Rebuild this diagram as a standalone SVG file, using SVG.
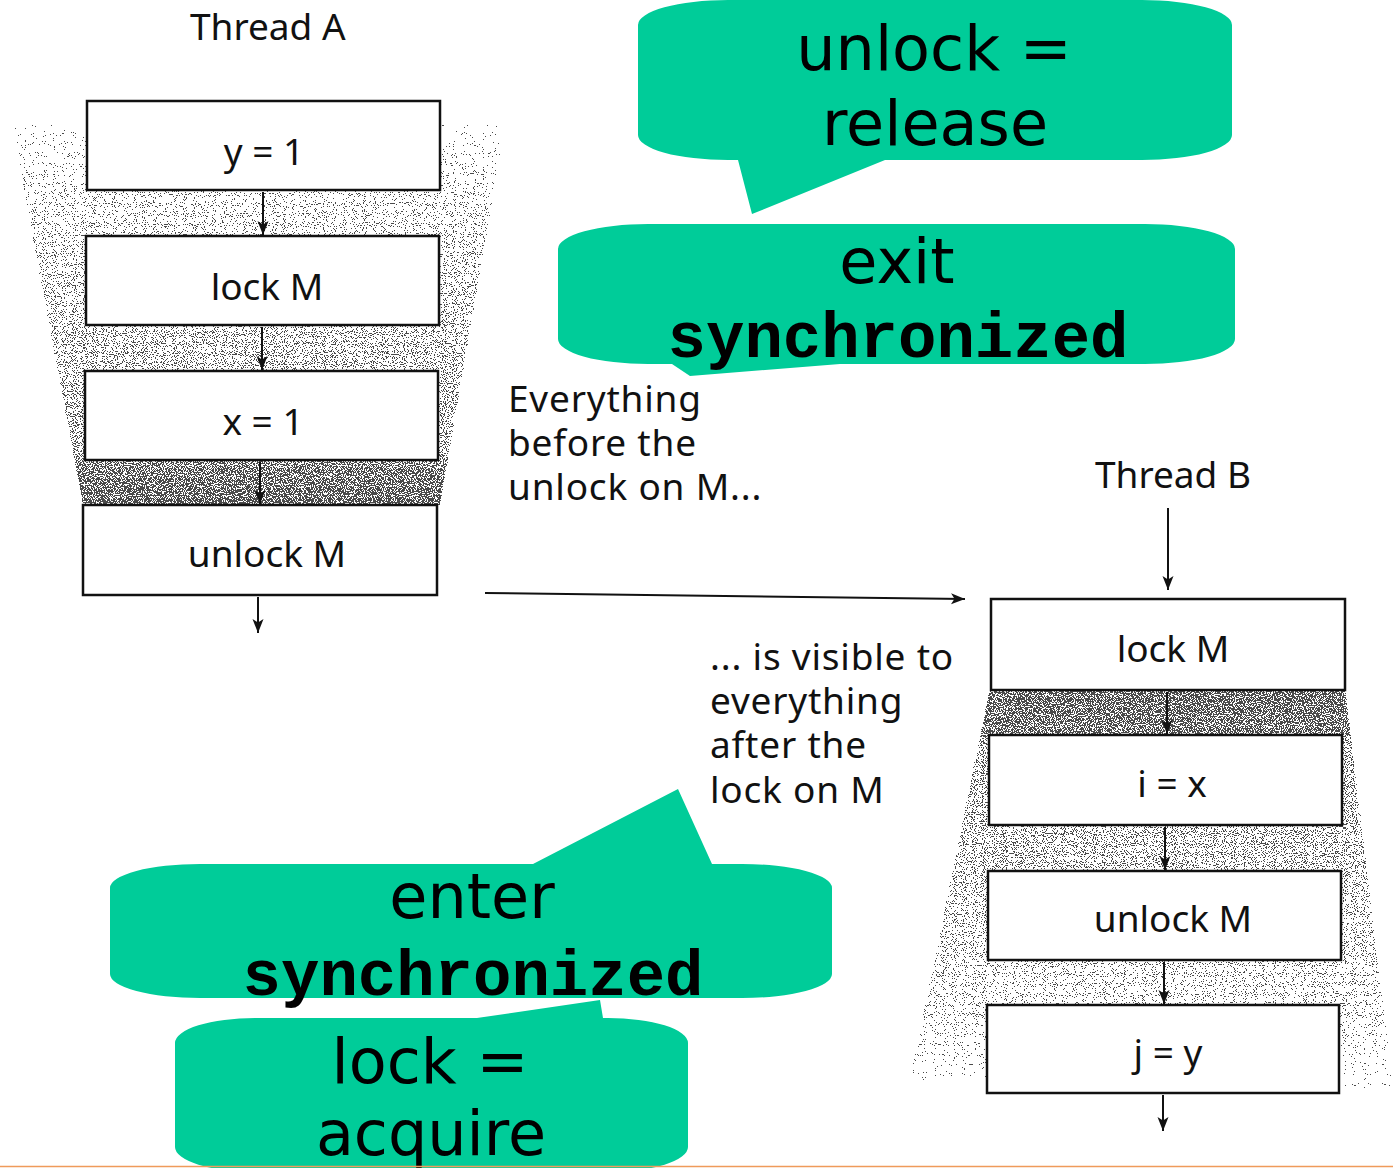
<svg xmlns="http://www.w3.org/2000/svg" width="1393" height="1168" viewBox="0 0 1393 1168">
  <style>
    .box { fill: #ffffff; stroke: #111; stroke-width: 2.5; }
    .lbl { font-family: "Noto Sans", "Open Sans", sans-serif; font-size: 37px; fill: #111; }
    .note { letter-spacing: 0.8px; }
    .mid { text-anchor: middle; }
    .bubble { fill: #00CC99; }
    .big { font-family: "DejaVu Sans", sans-serif; font-size: 62px; fill: #000; text-anchor: middle; }
    .code { font-family: "Liberation Mono", "Courier New", monospace; font-weight: bold; font-size: 64px; fill: #000; text-anchor: middle; }
    .conn line { stroke: #111; stroke-width: 2; marker-end: url(#arrow); }
  </style>
  <defs>
    <marker id="arrow" markerUnits="userSpaceOnUse" markerWidth="16" markerHeight="12" refX="14" refY="6" orient="auto">
      <path d="M0,0.5 L14,6 L0,11.5 L3.5,6 Z" fill="#111"/>
    </marker>
    <!-- stipple: turns a grey-level alpha ramp into scattered dots -->
    <filter id="stipple" filterUnits="userSpaceOnUse" x="0" y="0" width="1393" height="1168" color-interpolation-filters="sRGB">
      <feTurbulence type="fractalNoise" baseFrequency="0.9" numOctaves="1" seed="7" result="noise"/>
      <feColorMatrix in="noise" type="matrix" values="0 0 0 0 0  0 0 0 0 0  0 0 0 0 0  1 0 0 0 0" result="na"/>
      <feComponentTransfer in="na" result="ns">
        <feFuncA type="linear" slope="2.2" intercept="-0.6"/>
      </feComponentTransfer>
      <feComposite in="SourceGraphic" in2="ns" operator="arithmetic" k1="0" k2="1" k3="-1" k4="0.485" result="diff"/>
      <feComponentTransfer in="diff" result="mask">
        <feFuncA type="discrete" tableValues="0 1"/>
      </feComponentTransfer>
      <feFlood flood-color="#4a4a4a" result="ink"/>
      <feComposite in="ink" in2="mask" operator="in"/>
    </filter>
    <linearGradient id="shadeA" x1="0" y1="0" x2="0" y2="1">
      <stop offset="0" stop-color="#000" stop-opacity="0.06"/>
      <stop offset="0.2" stop-color="#000" stop-opacity="0.22"/>
      <stop offset="0.55" stop-color="#000" stop-opacity="0.34"/>
      <stop offset="0.86" stop-color="#000" stop-opacity="0.42"/>
      <stop offset="0.9" stop-color="#000" stop-opacity="0.56"/>
      <stop offset="1" stop-color="#000" stop-opacity="0.62"/>
    </linearGradient>
    <linearGradient id="shadeB" x1="0" y1="0" x2="0" y2="1">
      <stop offset="0" stop-color="#000" stop-opacity="0.62"/>
      <stop offset="0.11" stop-color="#000" stop-opacity="0.56"/>
      <stop offset="0.14" stop-color="#000" stop-opacity="0.42"/>
      <stop offset="0.45" stop-color="#000" stop-opacity="0.34"/>
      <stop offset="0.8" stop-color="#000" stop-opacity="0.22"/>
      <stop offset="1" stop-color="#000" stop-opacity="0.06"/>
    </linearGradient>
  </defs>

  <rect x="0" y="0" width="1393" height="1168" fill="#ffffff"/>

  <!-- shaded funnels behind each thread -->
  <g id="funnel-a" filter="url(#stipple)">
    <polygon points="12,125 505,125 440,505 83,505" fill="url(#shadeA)"/>
  </g>
  <g id="funnel-b" filter="url(#stipple)">
    <polygon points="990,688 1345,688 1393,1088 910,1080" fill="url(#shadeB)"/>
  </g>

  <!-- thread titles -->
  <g id="title-a"><text class="lbl" x="190" y="40" font-size="38">Thread A</text></g>
  <g id="title-b"><text class="lbl" x="1095" y="488" font-size="38">Thread B</text></g>

  <!-- connectors -->
  <g id="connectors" class="conn">
    <line x1="263" y1="192" x2="263" y2="235"/>
    <line x1="262" y1="327" x2="262" y2="370"/>
    <line x1="260" y1="462" x2="260" y2="504"/>
    <line x1="258" y1="597" x2="258" y2="633"/>
    <line x1="485" y1="593" x2="965" y2="599"/>
    <line x1="1168" y1="508" x2="1168" y2="590"/>
    <line x1="1167" y1="692" x2="1167" y2="734"/>
    <line x1="1165" y1="827" x2="1165" y2="870"/>
    <line x1="1164" y1="962" x2="1164" y2="1004"/>
    <line x1="1163" y1="1095" x2="1163" y2="1131"/>
  </g>

  <!-- Thread A steps -->
  <g id="a-y1"><rect class="box" x="87" y="101" width="353" height="89"/><text class="lbl mid" x="264" y="165">y = 1</text></g>
  <g id="a-lock"><rect class="box" x="86" y="236" width="353" height="89"/><text class="lbl mid" x="267" y="300">lock M</text></g>
  <g id="a-x1"><rect class="box" x="85" y="371" width="353" height="89"/><text class="lbl mid" x="263" y="435">x = 1</text></g>
  <g id="a-unlock"><rect class="box" x="83" y="505" width="354" height="90"/><text class="lbl mid" x="267" y="567">unlock M</text></g>

  <!-- Thread B steps -->
  <g id="b-lock"><rect class="box" x="991" y="599" width="354" height="91"/><text class="lbl mid" x="1173" y="662">lock M</text></g>
  <g id="b-ix"><rect class="box" x="989" y="735" width="353" height="90"/><text class="lbl mid" x="1172" y="797">i = x</text></g>
  <g id="b-unlock"><rect class="box" x="988" y="871" width="353" height="89"/><text class="lbl mid" x="1173" y="932">unlock M</text></g>
  <g id="b-jy"><rect class="box" x="987" y="1005" width="352" height="88"/><text class="lbl mid" x="1168" y="1066">j = y</text></g>

  <!-- explanatory notes -->
  <g id="note-before" class="lbl note">
    <text x="508" y="412">Everything</text>
    <text x="508" y="456">before the</text>
    <text x="508" y="500">unlock on M...</text>
  </g>
  <g id="note-after" class="lbl note">
    <text x="710" y="670">... is visible to</text>
    <text x="710" y="714">everything</text>
    <text x="710" y="758">after the</text>
    <text x="710" y="803">lock on M</text>
  </g>

  <!-- speech bubbles -->
  <g id="bubble-release">
    <path class="bubble" d="M728,0 H1142 A90 25 0 0 1 1232 25 V135 A90 25 0 0 1 1142 160 H885 L752 214 L738 160 H728 A90 25 0 0 1 638 135 V25 A90 25 0 0 1 728 0 Z"/>
    <text class="big" x="934" y="70">unlock =</text>
    <text class="big" x="935" y="145">release</text>
  </g>
  <g id="bubble-exit">
    <path class="bubble" d="M648,224 H1145 A90 25 0 0 1 1235 249 V339 A90 25 0 0 1 1145 364 H840 L690 376 L672 364 H648 A90 25 0 0 1 558 339 V249 A90 25 0 0 1 648 224 Z"/>
    <text class="big" x="897" y="283">exit</text>
    <text class="code" x="898" y="357">synchronized</text>
  </g>
  <g id="bubble-enter">
    <path class="bubble" d="M200,864 H533 L678 789 L712 864 H742 A90 24 0 0 1 832 888 V974 A90 24 0 0 1 742 998 H200 A90 24 0 0 1 110 974 V888 A90 24 0 0 1 200 864 Z"/>
    <text class="big" x="472" y="918">enter</text>
    <text class="code" x="473" y="995">synchronized</text>
  </g>
  <g id="bubble-acquire">
    <path class="bubble" d="M255,1018 H477 L600 1000 L603 1018 H608 A80 25 0 0 1 688 1043 V1147 A80 25 0 0 1 608 1172 H255 A80 25 0 0 1 175 1147 V1043 A80 25 0 0 1 255 1018 Z"/>
    <text class="big" x="430" y="1083">lock =</text>
    <text class="big" x="431" y="1155">acquire</text>
  </g>

  <!-- bottom rule -->
  <line x1="0" y1="1166.5" x2="1393" y2="1166.5" stroke="#EF9B5B" stroke-width="1.5"/>
</svg>
